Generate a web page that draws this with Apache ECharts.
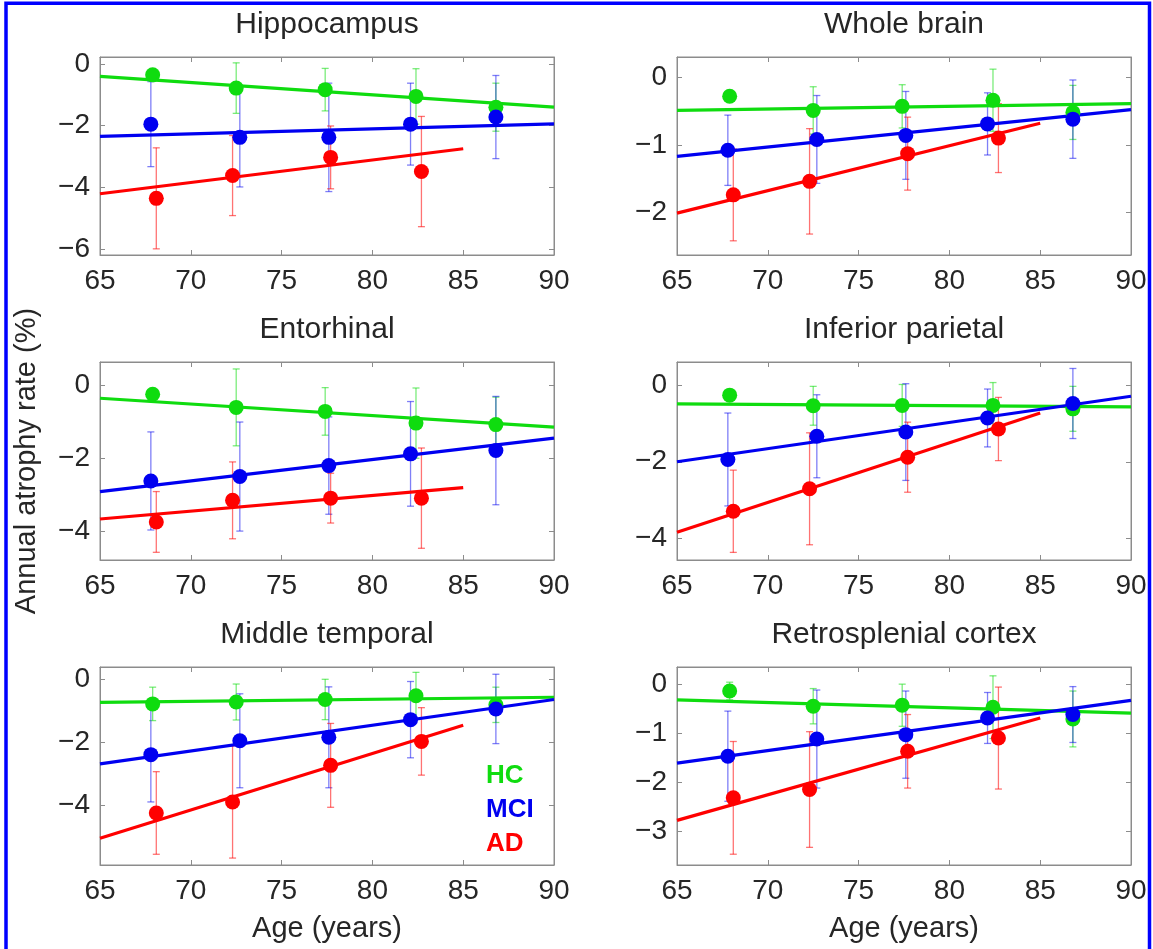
<!DOCTYPE html>
<html>
<head>
<meta charset="utf-8">
<script src="https://cdn.jsdelivr.net/npm/echarts@6/dist/echarts.min.js"></script>
<style>
  html, body { margin: 0; padding: 0; background: #fff; }
  #chart { width: 1153px; height: 949px; }
</style>
</head>
<body>
<div id="chart"></div>
<script>
// data
var regionNames = ['Hippocampus', 'Whole brain', 'Entorhinal', 'Inferior parietal', 'Middle temporal', 'Retrosplenial cortex'];
var ageTicks = [65, 70, 75, 80, 85, 90];
var hcAge = [67.9, 72.5, 77.4, 82.4, 86.8];
var mciAge = [67.8, 72.7, 77.6, 82.1, 86.8];
var adAge = [68.1, 72.3, 77.7, 82.7];
var fitAge = [65, 90];
var adFitAge = [65, 85];

var hcMean = [
    [-0.35, -0.78, -0.83, -1.05, -1.40],
    [-0.28, -0.49, -0.43, -0.34, -0.52],
    [-0.25, -0.61, -0.72, -1.04, -1.08],
    [-0.25, -0.53, -0.52, -0.52, -0.61],
    [-0.77, -0.71, -0.63, -0.51, -0.80],
    [-0.14, -0.45, -0.43, -0.47, -0.71]
];
var hcErr = [
    [0.05, 0.82, 0.69, 0.90, 0.78],
    [0.03, 0.35, 0.32, 0.46, 0.40],
    [0.05, 1.05, 0.65, 0.96, 0.75],
    [0.05, 0.51, 0.55, 0.60, 0.59],
    [0.53, 0.57, 0.64, 0.74, 0.56],
    [0.18, 0.36, 0.43, 0.64, 0.57]
];
var mciMean = [
    [-1.95, -2.38, -2.38, -1.95, -1.72],
    [-1.08, -0.92, -0.86, -0.69, -0.62],
    [-2.62, -2.50, -2.20, -1.88, -1.79],
    [-1.94, -1.33, -1.22, -0.85, -0.47],
    [-2.38, -1.94, -1.83, -1.27, -0.93],
    [-1.47, -1.12, -1.03, -0.69, -0.62]
];
var mciErr = [
    [1.38, 1.61, 1.76, 1.33, 1.35],
    [0.52, 0.65, 0.65, 0.46, 0.58],
    [1.34, 1.49, 1.33, 1.43, 1.48],
    [1.22, 1.09, 1.27, 0.76, 0.92],
    [1.50, 1.49, 1.60, 1.21, 1.10],
    [0.92, 1.00, 0.89, 0.52, 0.57]
];
var adMean = [
    [-4.36, -3.62, -3.03, -3.49],
    [-1.74, -1.54, -1.13, -0.90],
    [-3.74, -3.15, -3.09, -3.09],
    [-3.30, -2.71, -1.88, -1.14],
    [-4.23, -3.88, -2.72, -1.96],
    [-2.32, -2.15, -1.37, -1.10]
];
var adErr = [
    [1.64, 1.30, 1.02, 1.79],
    [0.68, 0.78, 0.54, 0.51],
    [0.83, 1.05, 0.68, 1.37],
    [1.08, 1.47, 0.92, 0.83],
    [1.31, 1.78, 1.33, 1.07],
    [1.15, 1.18, 0.75, 1.04]
];
// fitted lines: value at first and last age of fit range
var hcFit = [[-0.40, -1.40], [-0.49, -0.39], [-0.36, -1.15], [-0.48, -0.56], [-0.72, -0.56], [-0.32, -0.59]];
var mciFit = [[-2.35, -1.94], [-1.17, -0.48], [-2.91, -1.45], [-2.00, -0.28], [-2.67, -0.63], [-1.61, -0.33]];
var adFit = [[-4.21, -2.75], [-2.01, -0.68], [-3.66, -2.80], [-3.85, -0.72], [-5.03, -1.45], [-2.78, -0.69]];

var yMin = [-6.2, -2.63, -4.78, -4.58, -5.88, -3.69];
var yMax = [0.23, 0.30, 0.63, 0.62, 0.40, 0.35];
var yTicks = [[-6, -4, -2, 0], [-2, -1, 0], [-4, -2, 0], [-4, -2, 0], [-4, -2, 0], [-3, -2, -1, 0]];

var groupNames = ['HC', 'MCI', 'AD'];

// styles
var FONT = "'Liberation Sans', Arial, Helvetica, sans-serif";
var boxColor = '#8c8c8c';
var textColor = '#262626';
var lineColors = ['#0fdc0f', '#0000f0', '#ff0000'];
var barColors = ['rgba(15,220,15,0.55)', 'rgba(0,0,240,0.5)', 'rgba(255,0,0,0.55)'];
var gridLeft = [100, 677];
var gridTop = [57, 362, 667];
var gridW = 454, gridH = 198;

var chart = echarts.init(document.getElementById('chart'));

function minus(v) {
    return String(v).replace('-', '\u2212');
}

function pairs(xs, ys) {
    return xs.map(function (x, i) { return [x, ys[i]]; });
}

function errRenderer(color) {
    return function (params, api) {
        var x = api.value(0), y = api.value(1), e = api.value(2);
        var top = api.coord([x, y + e]);
        var bot = api.coord([x, y - e]);
        var cap = 3.5;
        var st = { stroke: color, lineWidth: 1.3 };
        return {
            type: 'group',
            children: [
                { type: 'line', shape: { x1: top[0], y1: top[1], x2: bot[0], y2: bot[1] }, style: st },
                { type: 'line', shape: { x1: top[0] - cap, y1: top[1], x2: top[0] + cap, y2: top[1] }, style: st },
                { type: 'line', shape: { x1: bot[0] - cap, y1: bot[1], x2: bot[0] + cap, y2: bot[1] }, style: st }
            ]
        };
    };
}

var grids = [], xAxes = [], yAxes = [], series = [], graphics = [];

regionNames.forEach(function (name, i) {
    var col = i % 2, row = Math.floor(i / 2);
    grids.push({
        left: gridLeft[col], top: gridTop[row], width: gridW, height: gridH,
        show: true, borderColor: boxColor, borderWidth: 1, backgroundColor: '#fff'
    });
});

// bottom x axes
regionNames.forEach(function (name, i) {
    var row = Math.floor(i / 2);
    xAxes.push({
        type: 'value', gridIndex: i, position: 'bottom',
        min: ageTicks[0], max: ageTicks[ageTicks.length - 1], interval: 5,
        axisLine: { show: true, onZero: false, lineStyle: { color: boxColor, width: 1 } },
        axisTick: { show: true, inside: true, length: 5, lineStyle: { color: boxColor } },
        axisLabel: { show: true, margin: 12, fontSize: 28, color: textColor, fontFamily: FONT },
        splitLine: { show: false },
        name: row === 2 ? 'Age (years)' : '',
        nameLocation: 'middle', nameGap: 49,
        nameTextStyle: { fontSize: 29, color: textColor, fontFamily: FONT }
    });
});
// top x axes (ticks only)
regionNames.forEach(function (name, i) {
    xAxes.push({
        type: 'value', gridIndex: i, position: 'top',
        min: ageTicks[0], max: ageTicks[ageTicks.length - 1], interval: 5,
        axisLine: { show: true, onZero: false, lineStyle: { color: boxColor, width: 1 } },
        axisTick: { show: true, inside: true, length: 5, lineStyle: { color: boxColor } },
        axisLabel: { show: false },
        splitLine: { show: false }
    });
});
// left y axes
regionNames.forEach(function (name, i) {
    yAxes.push({
        type: 'value', gridIndex: i, position: 'left',
        min: yMin[i], max: yMax[i],
        axisLine: { show: true, onZero: false, lineStyle: { color: boxColor, width: 1 } },
        axisTick: { show: true, inside: true, length: 5, lineStyle: { color: boxColor }, customValues: yTicks[i] },
        axisLabel: {
            show: true, margin: 10, fontSize: 28, color: textColor, fontFamily: FONT,
            customValues: yTicks[i], formatter: minus
        },
        splitLine: { show: false }
    });
});
// right y axes (ticks only)
regionNames.forEach(function (name, i) {
    yAxes.push({
        type: 'value', gridIndex: i, position: 'right',
        min: yMin[i], max: yMax[i],
        axisLine: { show: true, onZero: false, lineStyle: { color: boxColor, width: 1 } },
        axisTick: { show: true, inside: true, length: 5, lineStyle: { color: boxColor }, customValues: yTicks[i] },
        axisLabel: { show: false },
        splitLine: { show: false }
    });
});

regionNames.forEach(function (name, i) {
    var groups = [
        { age: hcAge, mean: hcMean[i], err: hcErr[i], fitX: fitAge, fitY: hcFit[i] },
        { age: mciAge, mean: mciMean[i], err: mciErr[i], fitX: fitAge, fitY: mciFit[i] },
        { age: adAge, mean: adMean[i], err: adErr[i], fitX: adFitAge, fitY: adFit[i] }
    ];
    groups.forEach(function (g, k) {
        series.push({
            type: 'custom', name: groupNames[k], xAxisIndex: i, yAxisIndex: i, z: 2,
            renderItem: errRenderer(barColors[k]),
            encode: { x: 0, y: 1 },
            data: g.age.map(function (a, j) { return [a, g.mean[j], g.err[j]]; })
        });
    });
    groups.forEach(function (g, k) {
        series.push({
            type: 'line', name: groupNames[k], xAxisIndex: i, yAxisIndex: i, z: 3,
            showSymbol: false, symbol: 'none',
            lineStyle: { color: lineColors[k], width: 3.2 },
            data: pairs(g.fitX, g.fitY)
        });
    });
    groups.forEach(function (g, k) {
        series.push({
            type: 'scatter', name: groupNames[k], xAxisIndex: i, yAxisIndex: i, z: 4,
            symbol: 'circle', symbolSize: 15,
            itemStyle: { color: lineColors[k], opacity: 1 },
            data: pairs(g.age, g.mean)
        });
    });

    var col = i % 2, row = Math.floor(i / 2);
    graphics.push({
        type: 'text',
        x: gridLeft[col] + gridW / 2, y: gridTop[row] - 32,
        style: {
            text: name, fill: textColor, font: '30px ' + FONT,
            align: 'center', verticalAlign: 'middle'
        }
    });
});

// shared y label
graphics.push({
    type: 'text', x: 27, y: 461, rotation: Math.PI / 2,
    style: {
        text: 'Annual atrophy rate (%)', fill: textColor, font: '29px ' + FONT,
        align: 'center', verticalAlign: 'middle'
    }
});

// group labels in the middle temporal panel
var legendY = [776, 810, 844];
groupNames.forEach(function (g, k) {
    graphics.push({
        type: 'text', x: 486, y: legendY[k],
        style: {
            text: g, fill: lineColors[k], font: 'bold 26px ' + FONT,
            align: 'left', verticalAlign: 'middle'
        }
    });
});

// blue frame
graphics.push({
    type: 'rect', z: 100,
    shape: { x: 6, y: 3.3, width: 1143.5, height: 980 },
    style: { fill: 'none', stroke: '#0000ff', lineWidth: 3.5 }
});

chart.setOption({
    animation: false,
    backgroundColor: '#fff',
    grid: grids,
    xAxis: xAxes,
    yAxis: yAxes,
    series: series,
    graphic: graphics
});
</script>
</body>
</html>
